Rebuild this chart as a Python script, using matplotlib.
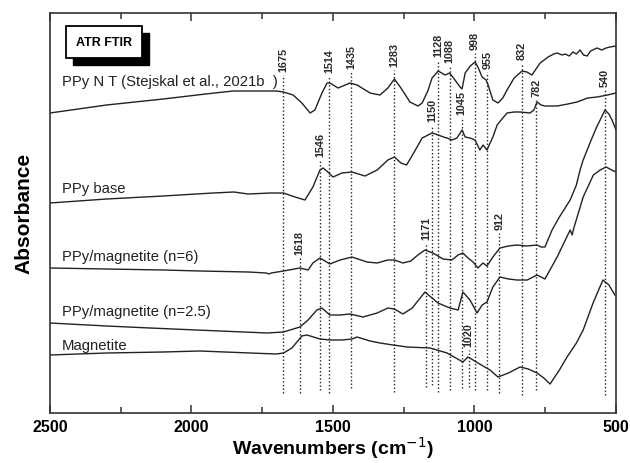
import matplotlib
matplotlib.use("Agg")
import matplotlib.pyplot as plt
from matplotlib.patches import Rectangle
from matplotlib.ticker import MultipleLocator

plt.rcParams['font.family'] = ['Liberation Sans', 'DejaVu Sans']

# spectra (wavenumber, stacked absorbance in arbitrary units)
wn_ppy_nt = [2500, 2300, 2100, 1950, 1853, 1760, 1700, 1675, 1641, 1610, 1581, 1564, 1539,
             1521, 1511, 1482, 1440, 1415, 1369, 1334, 1306, 1283, 1260, 1228, 1200, 1185,
             1165, 1150, 1128, 1104, 1088, 1069, 1051, 1044, 1033, 1015, 998, 988, 973, 959,
             952, 935, 917, 900, 885, 860, 832, 815, 797, 768, 740, 720, 708, 690, 680, 665,
             652, 640, 627, 615, 602, 590, 575, 567, 550, 535, 521, 500]
ab_ppy_nt = [300, 308, 314, 319, 322, 322, 322, 321, 318, 310, 300, 303, 320,
             330, 330, 325, 330, 328, 320, 318, 325, 334, 325, 311, 307, 310,
             322, 335, 342, 338, 340, 333, 326, 324, 340, 347, 351, 346, 336, 333,
             328, 313, 310, 315, 323, 335, 342, 341, 338, 350, 356, 359, 360, 358, 359, 357,
             361, 359, 363, 358, 357, 362, 364, 365, 363, 365, 366, 367]

wn_ppy_base = [2500, 2300, 2100, 1924, 1850, 1800, 1720, 1675, 1634, 1599, 1571, 1546, 1535,
               1518, 1500, 1468, 1433, 1387, 1344, 1306, 1283, 1260, 1240, 1215, 1185, 1150,
               1128, 1110, 1097, 1080, 1062, 1044, 1033, 1016, 998, 981, 970, 956, 935, 920,
               900, 885, 860, 839, 804, 790, 779, 765, 751, 708, 670, 638, 600, 567, 530, 500]
ab_ppy_base = [210, 214, 217, 220, 221, 219, 220, 220, 216, 213, 226, 243, 245,
               241, 236, 240, 241, 237, 243, 253, 256, 250, 248, 260, 275, 280,
               278, 276, 275, 273, 275, 283, 276, 275, 273, 263, 268, 263, 276, 288,
               295, 300, 301, 301, 300, 303, 311, 308, 307, 307, 309, 311, 315, 316, 318, 320]

wn_n6 = [2500, 2300, 2100, 1970, 1800, 1735, 1727, 1718, 1675, 1617, 1588, 1571, 1546, 1511,
         1475, 1433, 1380, 1344, 1306, 1283, 1253, 1225, 1200, 1175, 1147, 1111, 1080, 1058,
         1041, 1023, 1005, 988, 970, 956, 935, 910, 880, 850, 815, 779, 765, 751, 726, 700,
         662, 640, 627, 616, 592, 570, 556, 539, 525, 514, 500]
ab_n6 = [145, 144, 143, 142, 141, 140, 139, 140, 142, 145, 143, 150, 155, 149,
         153, 156, 151, 150, 153, 153, 150, 152, 158, 163, 160, 154, 153, 158,
         160, 155, 151, 145, 150, 147, 156, 165, 167, 168, 167, 168, 166, 166, 183, 196,
         213, 228, 243, 253, 270, 285, 293, 303, 299, 293, 283]

wn_n25 = [2500, 2300, 2147, 1900, 1733, 1675, 1617, 1588, 1557, 1539, 1511, 1475, 1440,
          1394, 1344, 1306, 1283, 1253, 1220, 1175, 1150, 1129, 1087, 1058, 1041, 1016,
          991, 973, 956, 935, 910, 880, 850, 814, 779, 751, 708, 662, 655, 650, 616, 580,
          556, 535, 515, 500]
ab_n25 = [90, 87, 85, 82, 80, 81, 86, 93, 103, 105, 98, 98, 99,
          96, 100, 105, 104, 99, 105, 121, 115, 110, 105, 103, 121, 113,
          100, 108, 111, 126, 136, 134, 133, 133, 138, 134, 156, 183, 178, 184, 216, 238,
          243, 246, 243, 241]

wn_mag = [2500, 2300, 2100, 1970, 1793, 1700, 1675, 1645, 1610, 1592, 1546, 1511, 1468,
          1433, 1415, 1369, 1334, 1288, 1238, 1157, 1097, 1041, 1023, 1005, 970, 945, 917,
          880, 839, 810, 779, 755, 733, 700, 673, 640, 616, 581, 560, 546, 525, 504]
ab_mag = [58, 60, 61, 62, 60, 59, 60, 65, 77, 78, 74, 73, 73,
          74, 76, 72, 70, 68, 66, 65, 60, 51, 56, 53, 47, 43, 36,
          40, 46, 44, 40, 35, 29, 43, 56, 70, 83, 110, 124, 133, 128, 118]

curve_names = ["PPy N T (Stejskal et al., 2021b  )", "PPy base", "PPy/magnetite (n=6)",
               "PPy/magnetite (n=2.5)", "Magnetite"]
name_y = [331, 224, 156, 101, 67]

# assigned bands: position, top of dotted marker, bottom of dotted marker
peaks = [1675, 1618, 1546, 1514, 1435, 1283, 1171, 1150, 1128, 1088, 1045, 1020, 998, 955,
         912, 832, 782, 540]
peak_top = [338, 155, 253, 337, 341, 343, 170, 288, 353, 347, 295, 63, 360, 341,
            180, 350, 313, 323]
peak_bottom = [20, 20, 23, 20, 25, 21, 26, 28, 21, 23, 25, 26, 23, 23,
               20, 18, 23, 18]

fig = plt.figure(figsize=(6.3, 4.63), dpi=100)
ax = fig.add_axes([50 / 630, 50 / 463, 566 / 630, 400 / 463])

col = "#222222"
for wn, ab in [(wn_ppy_nt, ab_ppy_nt), (wn_ppy_base, ab_ppy_base), (wn_n6, ab_n6),
               (wn_n25, ab_n25), (wn_mag, ab_mag)]:
    ax.plot(wn, ab, color=col, lw=1.0)

for name, yy in zip(curve_names, name_y):
    ax.text(2458, yy, name, fontsize=10.7, color="#222222", ha="left", va="center")

for p, t, b in zip(peaks, peak_top, peak_bottom):
    ax.plot([p, p], [b, t], color=col, lw=1.0, linestyle=(0, (1, 1.6)))
    ax.text(p, t + 3, str(p), rotation=90, fontsize=7.8, fontweight="bold",
            ha="center", va="bottom", color="#2a2a2a")

# ATR FTIR box with drop shadow
sx, sy = 7 / 566, 7 / 400
ax.add_patch(Rectangle((16 / 566 + sx, 1 - 45 / 400 - sy), 76 / 566, 32 / 400,
                       transform=ax.transAxes, facecolor="black", edgecolor="black",
                       zorder=4))
ax.add_patch(Rectangle((16 / 566, 1 - 45 / 400), 76 / 566, 32 / 400,
                       transform=ax.transAxes, facecolor="white", edgecolor="black",
                       lw=1.3, zorder=5))
ax.text(54 / 566, 1 - 30 / 400, "ATR FTIR", transform=ax.transAxes, fontsize=9,
        fontweight="bold", ha="center", va="center", zorder=6)

ax.set_xlim(2500, 500)
ax.set_ylim(0, 400)
ax.xaxis.set_major_locator(MultipleLocator(500))
ax.xaxis.set_minor_locator(MultipleLocator(250))
ax.tick_params(axis="x", which="both", direction="in", top=True, bottom=True,
               width=1.1, color="#333333")
ax.tick_params(axis="x", which="major", length=6, labelsize=11.5, pad=5)
ax.tick_params(axis="x", which="minor", length=4)
for lab in ax.get_xticklabels():
    lab.set_fontweight("bold")
ax.set_yticks([])
for s in ax.spines.values():
    s.set_linewidth(1.2)
    s.set_color("#333333")

ax.set_xlabel("Wavenumbers (cm$^{-1}$)", fontsize=14, fontweight="bold", labelpad=0)
ax.set_ylabel("Absorbance", fontsize=15, fontweight="bold", labelpad=12)

fig.savefig("out.png", dpi=100)
